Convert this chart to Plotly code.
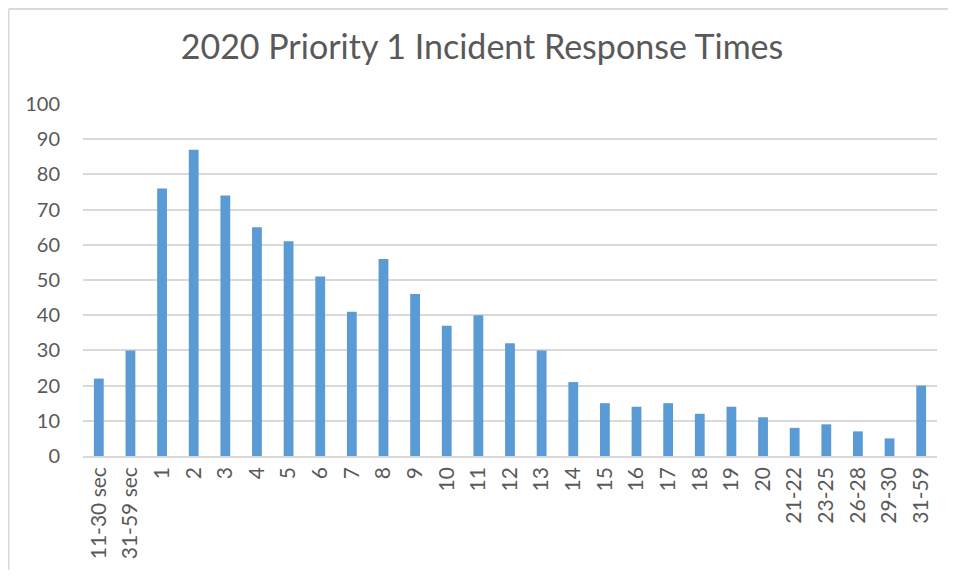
import plotly.graph_objects as go

categories = ["11-30 sec", "31-59 sec", "1", "2", "3", "4", "5", "6", "7", "8", "9", "10",
              "11", "12", "13", "14", "15", "16", "17", "18", "19", "20",
              "21-22", "23-25", "26-28", "29-30", "31-59"]
values = [22, 30, 76, 87, 74, 65, 61, 51, 41, 56, 46, 37,
          40, 32, 30, 21, 15, 14, 15, 12, 14, 11,
          8, 9, 7, 5, 20]
y_ticks = [0, 10, 20, 30, 40, 50, 60, 70, 80, 90, 100]

font_family = "Lato, Carlito, Calibri, sans-serif"

fig = go.Figure(go.Bar(
    x=categories, y=values,
    marker=dict(color="#5b9bd5", line=dict(width=0)),
    width=0.31,
))

fig.update_layout(
    width=948, height=562,
    margin=dict(l=75, r=19, t=96, b=114),
    paper_bgcolor="white", plot_bgcolor="white",
    title=dict(text="2020 Priority 1 Incident Response Times",
               x=0.5, xanchor="center", y=1 - 39 / 562, yanchor="middle",
               font=dict(family=font_family, size=34, color="#595959")),
    showlegend=False,
)
fig.update_xaxes(
    type="category", tickangle=-90,
    tickfont=dict(family=font_family, size=21, color="#595959"),
    showgrid=False, showline=True, linecolor="#d9d9d9", linewidth=1.5,
    ticks="", ticklabelstandoff=1,
)
fig.update_yaxes(
    range=[0, 100], tickvals=y_ticks,
    tickfont=dict(family=font_family, size=20, color="#595959"),
    showgrid=True, gridcolor="#d9d9d9", gridwidth=1.5,
    zeroline=False, showline=False, ticks="", ticklabelstandoff=22,
)
# chart frame: top and left edges only (right/bottom fall outside the view)
border = dict(color="#d9d9d9", width=2)
fig.add_shape(type="line", xref="paper", yref="paper",
              x0=-0.0872, x1=1.1, y0=1.27, y1=1.27, line=border, layer="below")
fig.add_shape(type="line", xref="paper", yref="paper",
              x0=-0.0872, x1=-0.0872, y0=-0.6, y1=1.27, line=border, layer="below")

fig.write_html("out.html")
